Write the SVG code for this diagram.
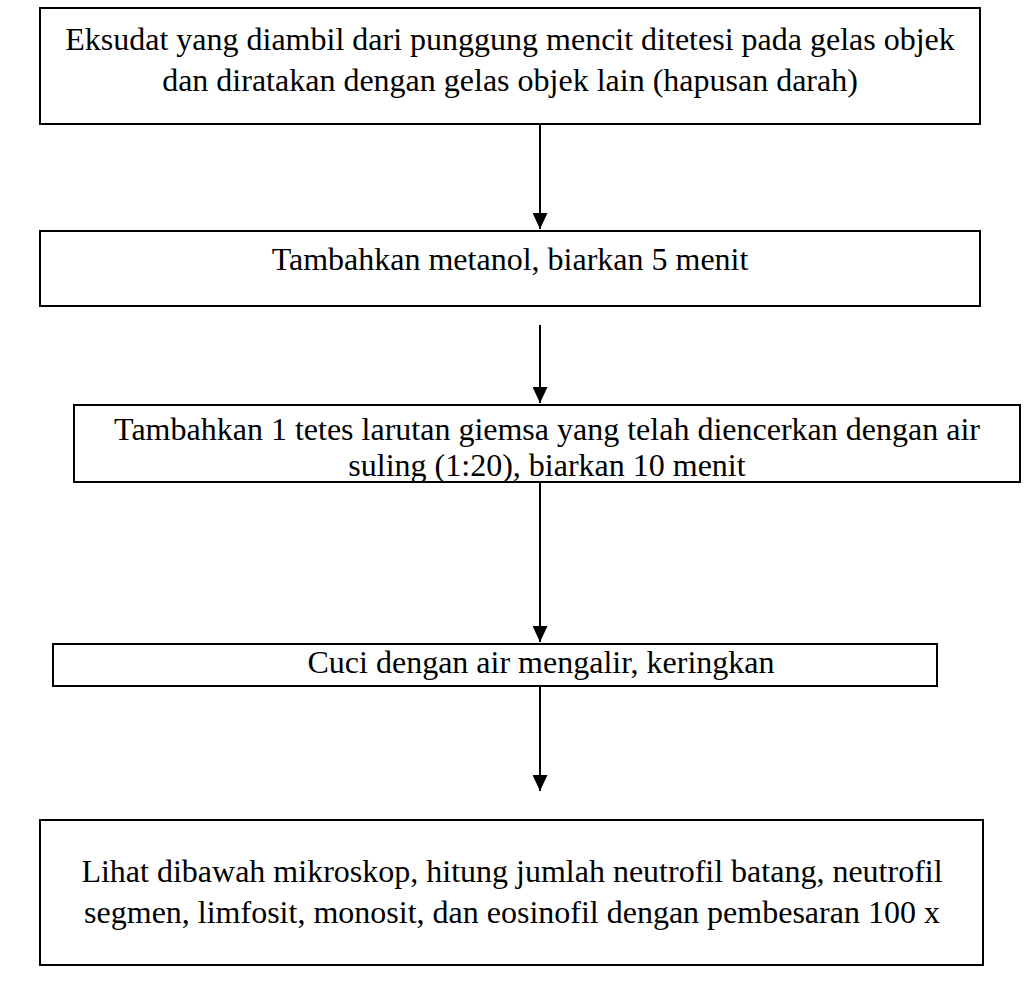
<svg xmlns="http://www.w3.org/2000/svg" width="1027" height="994" viewBox="0 0 1027 994">
  <style>
    .box { fill: #ffffff; stroke: #000000; stroke-width: 2; }
    .label { font-family: "Liberation Serif", "Times New Roman", serif; font-size: 32px; fill: #000000; text-anchor: middle; }
    .flow { stroke: #000000; stroke-width: 2; fill: none; marker-end: url(#head); }
  </style>
  <defs>
    <marker id="head" viewBox="0 0 16 15" refX="16" refY="7.5" markerWidth="16" markerHeight="15" markerUnits="userSpaceOnUse" orient="auto">
      <path d="M0,0 L16,7.5 L0,15 Z" fill="#000000"/>
    </marker>
  </defs>
  <rect width="1027" height="994" fill="#ffffff"/>

  <g id="step1">
    <rect class="box" x="40" y="8" width="940" height="116"/>
    <text class="label" x="510" y="50">Eksudat yang diambil dari punggung mencit ditetesi pada gelas objek</text>
    <text class="label" x="510" y="91">dan diratakan dengan gelas objek lain (hapusan darah)</text>
  </g>

  <g id="step2">
    <rect class="box" x="40" y="231" width="940" height="75"/>
    <text class="label" x="510" y="270">Tambahkan metanol, biarkan 5 menit</text>
  </g>

  <g id="step3">
    <rect class="box" x="74" y="405" width="946" height="77"/>
    <text class="label" x="547" y="440">Tambahkan 1 tetes larutan giemsa yang telah diencerkan dengan air</text>
    <text class="label" x="547" y="476">suling (1:20), biarkan 10 menit</text>
  </g>

  <g id="step4">
    <rect class="box" x="53" y="644" width="884" height="42"/>
    <text class="label" x="541" y="673">Cuci dengan air mengalir, keringkan</text>
  </g>

  <g id="step5">
    <rect class="box" x="40" y="820" width="943" height="145"/>
    <text class="label" x="512" y="882">Lihat dibawah mikroskop, hitung jumlah neutrofil batang, neutrofil</text>
    <text class="label" x="512" y="923">segmen, limfosit, monosit, dan eosinofil dengan pembesaran 100 x</text>
  </g>

  <g id="connectors">
    <line class="flow" x1="540" y1="124" x2="540" y2="229"/>
    <line class="flow" x1="540" y1="325" x2="540" y2="403"/>
    <line class="flow" x1="540" y1="482" x2="540" y2="642"/>
    <line class="flow" x1="540" y1="686" x2="540" y2="791"/>
  </g>
</svg>
